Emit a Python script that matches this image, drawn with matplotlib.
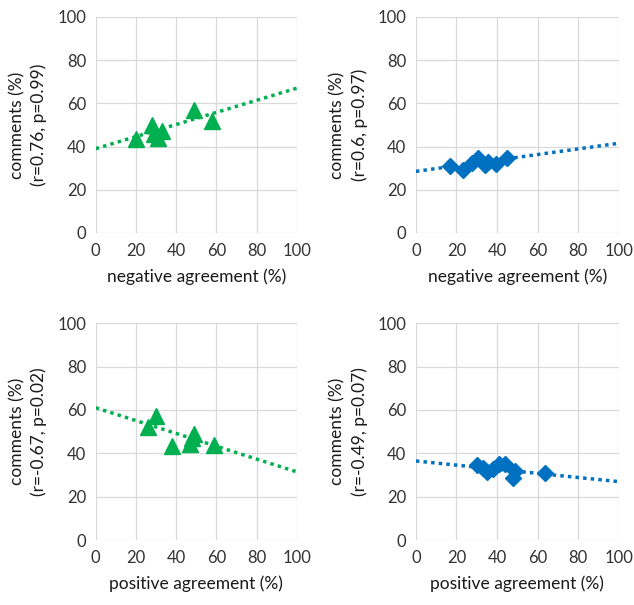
import matplotlib.pyplot as plt

plt.rcParams['font.family'] = ['Lato', 'DejaVu Sans']

GREEN = '#00B050'
BLUE = '#0070C0'

# top left: negative agreement vs comments (triangles)
neg_tri_x = [20, 28, 29, 31, 33, 49, 58]
neg_tri_y = [43.5, 50, 46, 44, 47, 57, 52]
neg_tri_trend = [39, 67]

# top right: negative agreement (diamonds)
neg_dia_x = [17, 23, 27.5, 30.5, 34, 35.5, 39.5, 45]
neg_dia_y = [31, 29, 32.5, 34.5, 31.5, 33, 32, 34.5]
neg_dia_trend = [28.5, 41.5]

# bottom left: positive agreement (triangles)
pos_tri_x = [26, 30, 38, 47, 48, 49, 59]
pos_tri_y = [52, 57, 43.5, 44.5, 47, 49, 44]
pos_tri_trend = [61, 31.5]

# bottom right: positive agreement (diamonds)
pos_dia_x = [30, 33, 35, 38, 41, 44, 48, 49, 63.5]
pos_dia_y = [34.5, 33.5, 31.5, 33, 35, 35, 28.8, 32, 31]
pos_dia_trend = [36.5, 27]

trend_x = [0, 100]

panels = [
    ([0.151, 0.615, 0.317, 0.357], neg_tri_x, neg_tri_y, neg_tri_trend, GREEN, '^', 11,
     'negative agreement (%)', 'comments (%)\n(r=0.76, p=0.99)'),
    ([0.656, 0.615, 0.320, 0.357], neg_dia_x, neg_dia_y, neg_dia_trend, BLUE, 'D', 8.5,
     'negative agreement (%)', 'comments (%)\n(r=0.6, p=0.97)'),
    ([0.151, 0.107, 0.317, 0.359], pos_tri_x, pos_tri_y, pos_tri_trend, GREEN, '^', 11,
     'positive agreement (%)', 'comments (%)\n(r=-0.67, p=0.02)'),
    ([0.656, 0.107, 0.320, 0.359], pos_dia_x, pos_dia_y, pos_dia_trend, BLUE, 'D', 8.5,
     'positive agreement (%)', 'comments (%)\n(r=-0.49, p=0.07)'),
]

fig = plt.figure(figsize=(6.34, 6.05), dpi=100)

for rect, xs, ys, trend, col, mk, ms, xl, yl in panels:
    ax = fig.add_axes(rect)
    ax.plot(trend_x, trend, color=col, linestyle=(0, (1, 1.2)), linewidth=2.5, zorder=2)
    ax.plot(xs, ys, linestyle='none', marker=mk, markersize=ms, color=col, zorder=3)
    ax.set_xlim(0, 100)
    ax.set_ylim(0, 100)
    ax.set_xticks(range(0, 101, 20))
    ax.set_yticks(range(0, 101, 20))
    ax.grid(True, color='#D9D9D9', linewidth=0.9, zorder=0)
    ax.set_axisbelow(True)
    for s in ax.spines.values():
        s.set_visible(False)
    ax.tick_params(length=0, labelsize=12, colors='#333333', pad=7)
    ax.set_xlabel(xl, fontsize=12.5, color='#1a1a1a', labelpad=7)
    ax.set_ylabel(yl, fontsize=12.5, color='#1a1a1a', labelpad=7, linespacing=1.4)

plt.savefig('out.png', dpi=100)
